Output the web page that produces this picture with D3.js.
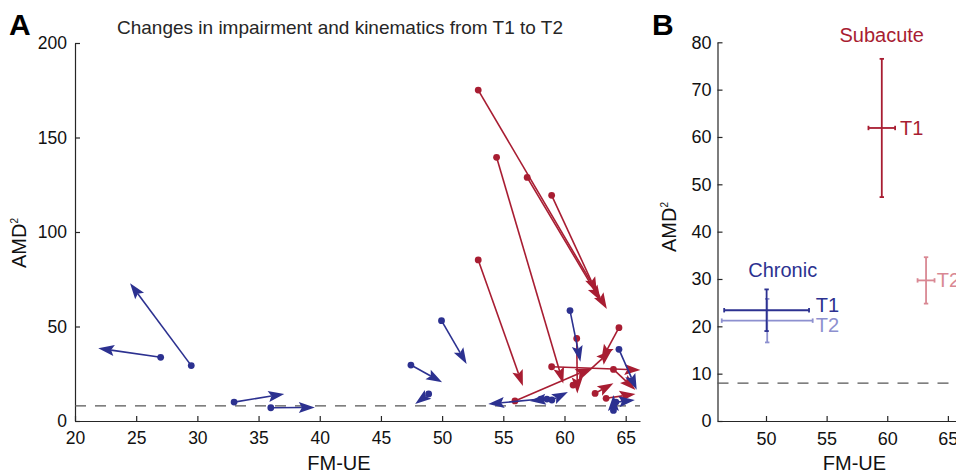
<!DOCTYPE html>
<html><head><meta charset="utf-8">
<script src="https://cdn.jsdelivr.net/npm/d3@7"></script>
<style>body{margin:0;background:#fff;} svg{display:block;font-family:"Liberation Sans",Arial,sans-serif;}</style>
</head><body><svg id="c" width="956" height="473"></svg>
<script>
// ---- Panel A data: individual changes T1 -> T2 ----
const chronicT1x = [27.0, 29.5, 33.0, 36.0, 49.95, 47.45, 48.9, 58.07, 58.56, 58.97, 60.45, 64.45, 64.0, 64.2];
const chronicT1y = [33.7, 29.3, 10.0, 7.0, 53.1, 29.6, 14.3, 11.6, 11.6, 11.1, 58.4, 37.9, 5.6, 10.0];
const chronicT2x = [21.9, 24.5, 37.1, 39.6, 52.0, 50.0, 47.8, 53.77, 57.17, 60.28, 61.3, 65.9, 64.0, 65.75];
const chronicT2y = [38.5, 72.9, 14.3, 7.2, 30.2, 20.5, 9.0, 9.0, 10.6, 15.3, 31.4, 16.5, 13.8, 11.1];
const subacuteT1x = [52.95, 56.95, 58.95, 54.45, 52.95, 61.0, 64.45, 60.7, 55.95, 58.95, 64.0, 62.5, 63.4];
const subacuteT1y = [175.1, 128.9, 119.4, 139.5, 85.2, 43.7, 49.4, 19.0, 10.6, 28.7, 27.3, 14.6, 12.0];
const subacuteT2x = [63.46, 62.97, 62.65, 59.9, 56.6, 61.05, 63.0, 63.87, 62.2, 66.2, 65.8, 64.0, 65.8];
const subacuteT2y = [59.3, 63.5, 67.7, 19.9, 18.5, 14.6, 32.0, 37.6, 28.0, 27.0, 16.4, 20.0, 14.3];
const threshold = 8;
const xTicksA = [20, 25, 30, 35, 40, 45, 50, 55, 60, 65];
const yTicksA = [0, 50, 100, 150, 200];

// ---- Panel B data: group means with error bars ----
const groups = ["Chronic T1", "Chronic T2", "Subacute T1", "Subacute T2"];
const meanX = [50.05, 50.1, 59.55, 63.2];
const meanY = [23.4, 21.2, 61.9, 29.7];
const errX = [3.5, 3.75, 1.1, 0.7];
const errY = [4.4, 4.6, 14.6, 4.9];
const labelsB = ["T1", "T2", "T1", "T2"];
const xTicksB = [50, 55, 60, 65];
const yTicksB = [0, 10, 20, 30, 40, 50, 60, 70, 80];

const RED = "#a81d32", BLUE = "#2c3190", LBLUE = "#8d90cf", LRED = "#d98893";
const AX = "#262626";
const svg = d3.select("#c");

// ---------- Panel A ----------
const xA = d3.scaleLinear().domain([20, 66.17]).range([75, 640]);
const yA = d3.scaleLinear().domain([0, 200]).range([421, 43]);

function styleAxis(g, fs) {
  g.select(".domain").attr("stroke", AX).attr("stroke-width", 1.2);
  g.selectAll(".tick line").attr("stroke", AX).attr("stroke-width", 1.2);
  g.selectAll(".tick text").attr("fill", "#111").attr("font-size", fs).attr("font-family", '"Liberation Sans",Arial,sans-serif');
}
const gxA = svg.append("g").attr("transform", "translate(0,421)")
  .call(d3.axisBottom(xA).tickValues(xTicksA).tickSizeInner(-5).tickSizeOuter(0).tickPadding(11));
styleAxis(gxA, 17.5);
const gyA = svg.append("g").attr("transform", "translate(75,0)")
  .call(d3.axisLeft(yA).tickValues(yTicksA).tickSizeInner(-5).tickSizeOuter(0).tickPadding(8));
styleAxis(gyA, 17.5);

svg.append("line").attr("x1", xA(20)).attr("x2", xA(66.17)).attr("y1", yA(threshold)).attr("y2", yA(threshold))
  .attr("stroke", "#555").attr("stroke-width", 1.3).attr("stroke-dasharray", "11,9");

function arrow(g, x0, y0, x1, y1, color) {
  const dx = x1 - x0, dy = y1 - y0, L = Math.hypot(dx, dy);
  const ux = dx / L, uy = dy / L;
  const hl = 16, hw = 5.5, notch = 3;
  const bx = x1 - ux * hl, by = y1 - uy * hl;
  g.append("line").attr("x1", x0).attr("y1", y0).attr("x2", bx + ux * notch).attr("y2", by + uy * notch)
    .attr("stroke", color).attr("stroke-width", 1.6);
  g.append("polygon").attr("points", [
    [x1, y1], [bx - uy * hw, by + ux * hw], [bx + ux * notch, by + uy * notch], [bx + uy * hw, by - ux * hw]
  ].map(p => p.join(",")).join(" ")).attr("fill", color);
  g.append("circle").attr("cx", x0).attr("cy", y0).attr("r", 3.4).attr("fill", color);
}
const gArr = svg.append("g");
subacuteT1x.forEach((v, i) => arrow(gArr, xA(v), yA(subacuteT1y[i]), xA(subacuteT2x[i]), yA(subacuteT2y[i]), RED));
chronicT1x.forEach((v, i) => arrow(gArr, xA(v), yA(chronicT1y[i]), xA(chronicT2x[i]), yA(chronicT2y[i]), BLUE));

svg.append("text").attr("x", 9).attr("y", 35).attr("font-size", 30).attr("font-weight", "bold").attr("fill", "#000").text("A");
svg.append("text").attr("x", 340).attr("y", 34).attr("text-anchor", "middle").attr("font-size", 19).attr("fill", AX)
  .text("Changes in impairment and kinematics from T1 to T2");
svg.append("text").attr("x", 339).attr("y", 470).attr("text-anchor", "middle").attr("font-size", 20).attr("fill", "#111").text("FM-UE");
function amdLabel(x, y) {
  const t = svg.append("text").attr("transform", `translate(${x},${y}) rotate(-90)`).attr("text-anchor", "middle")
    .attr("font-size", 20).attr("fill", "#111");
  t.append("tspan").text("AMD");
  t.append("tspan").attr("font-size", 10).attr("dy", -8).text("2");
}
amdLabel(26, 243);

// ---------- Panel B ----------
const xB = d3.scaleLinear().domain([46, 66]).range([717.5, 960]);
const yB = d3.scaleLinear().domain([0, 80]).range([421, 42.3]);
const gxB = svg.append("g").attr("transform", "translate(0,421)")
  .call(d3.axisBottom(xB).tickValues(xTicksB).tickSizeInner(-5).tickSizeOuter(0).tickPadding(11));
styleAxis(gxB, 18);
const gyB = svg.append("g").attr("transform", "translate(717.5,0)")
  .call(d3.axisLeft(yB).tickValues(yTicksB).tickSizeInner(-5).tickSizeOuter(0).tickPadding(6));
styleAxis(gyB, 18);
svg.append("line").attr("x1", xB(46)).attr("x2", 960).attr("y1", yB(threshold)).attr("y2", yB(threshold))
  .attr("stroke", "#555").attr("stroke-width", 1.3).attr("stroke-dasharray", "11,9");

const colorsB = [BLUE, LBLUE, RED, LRED];
const order = [1, 0, 3, 2];
order.forEach(i => {
  const g = svg.append("g").attr("stroke", colorsB[i]).attr("stroke-width", 1.8);
  const cx = xB(meanX[i]), cy = yB(meanY[i]);
  const xl = xB(meanX[i] - errX[i]), xr = xB(meanX[i] + errX[i]);
  const yt = yB(meanY[i] + errY[i]), yb = yB(meanY[i] - errY[i]);
  g.append("line").attr("x1", xl).attr("x2", xr).attr("y1", cy).attr("y2", cy);
  g.append("line").attr("x1", cx).attr("x2", cx).attr("y1", yt).attr("y2", yb);
  const c = 2.2;
  g.append("line").attr("x1", xl).attr("x2", xl).attr("y1", cy - c).attr("y2", cy + c);
  g.append("line").attr("x1", xr).attr("x2", xr).attr("y1", cy - c).attr("y2", cy + c);
  g.append("line").attr("x1", cx - c).attr("x2", cx + c).attr("y1", yt).attr("y2", yt);
  g.append("line").attr("x1", cx - c).attr("x2", cx + c).attr("y1", yb).attr("y2", yb);
});
const labPos = [[815.7, 311.7], [815.7, 331.7], [900, 135], [936.7, 287.3]];
labelsB.forEach((s, i) => svg.append("text").attr("x", labPos[i][0]).attr("y", labPos[i][1])
  .attr("font-size", 20).attr("fill", colorsB[i]).text(s));
svg.append("text").attr("x", 881.7).attr("y", 41.7).attr("text-anchor", "middle").attr("font-size", 20).attr("fill", RED).text("Subacute");
svg.append("text").attr("x", 782.7).attr("y", 276.7).attr("text-anchor", "middle").attr("font-size", 20).attr("fill", BLUE).text("Chronic");
svg.append("text").attr("x", 652).attr("y", 35).attr("font-size", 30).attr("font-weight", "bold").attr("fill", "#000").text("B");
svg.append("text").attr("x", 854.5).attr("y", 470).attr("text-anchor", "middle").attr("font-size", 20).attr("fill", "#111").text("FM-UE");
amdLabel(676, 227);
</script></body></html>
